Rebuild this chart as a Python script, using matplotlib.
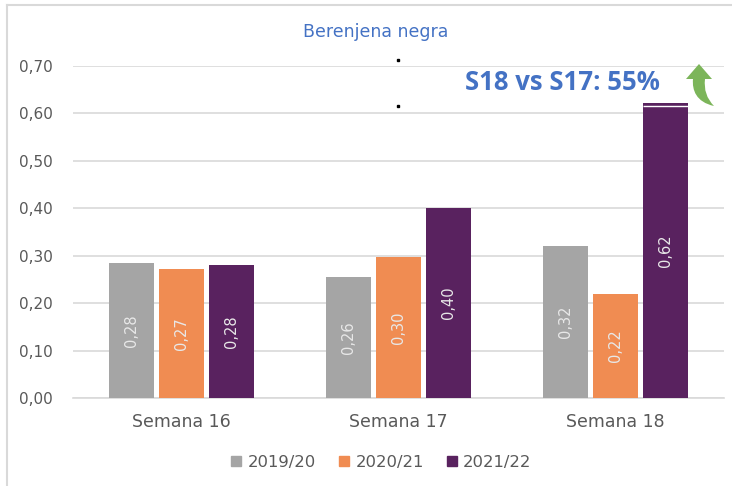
import matplotlib
matplotlib.use("Agg")
import matplotlib.pyplot as plt
from matplotlib.patches import PathPatch
from matplotlib.path import Path
from matplotlib.lines import Line2D
import numpy as np

categories = ["Semana 16", "Semana 17", "Semana 18"]
series_names = ["2019/20", "2020/21", "2021/22"]
v_2019 = [0.284, 0.256, 0.321]
v_2020 = [0.271, 0.297, 0.219]
v_2021 = [0.281, 0.400, 0.621]
labels_2019 = ["0,28", "0,26", "0,32"]
labels_2020 = ["0,27", "0,30", "0,22"]
labels_2021 = ["0,28", "0,40", "0,62"]
yticks = [0.0, 0.1, 0.2, 0.3, 0.4, 0.5, 0.6, 0.7]
ytick_labels = ["0,00", "0,10", "0,20", "0,30", "0,40", "0,50", "0,60", "0,70"]
title = "Berenjena negra"
note = "S18 vs S17: 55%"

colors = ["#A5A5A5", "#F08C52", "#59225F"]
font = "DejaVu Sans"
W, H = 732, 486
fig = plt.figure(figsize=(W / 100, H / 100), dpi=100)
ax = fig.add_axes([73 / W, 1 - 398 / H, (724 - 73) / W, (398 - 66) / H])

x = np.arange(len(categories))
bw = 0.207
step = 0.23
all_vals = [v_2019, v_2020, v_2021]
all_labels = [labels_2019, labels_2020, labels_2021]
for i, (vals, labs) in enumerate(zip(all_vals, all_labels)):
    pos = x + (i - 1) * step
    ax.bar(pos, vals, width=bw, color=colors[i], zorder=3, label=series_names[i])
    for p, v, l in zip(pos, vals, labs):
        ax.text(p, v / 2, l, rotation=90, ha="center", va="center",
                color="#E8E8E8", fontsize=10.5, family=font, zorder=4)

# thin white line near top of the tallest bar
p_last = x[2] + step
ax.hlines(v_2021[2] - 0.006, p_last - bw / 2, p_last + bw / 2, color="white", lw=1, zorder=5)

ax.set_xlim(-0.5, 2.5)
ax.set_ylim(0, 0.70)
ax.set_yticks(yticks)
ax.set_yticklabels(ytick_labels)
ax.set_xticks(x)
ax.set_xticklabels(categories)
ax.grid(axis="y", color="#D9D9D9", lw=1.2, zorder=0)
ax.set_axisbelow(True)
for s in ["top", "right", "left"]:
    ax.spines[s].set_visible(False)
ax.spines["bottom"].set_color("#D9D9D9")
ax.spines["bottom"].set_linewidth(1.2)
ax.tick_params(axis="both", length=0, colors="#595959")
ax.tick_params(axis="y", pad=14.4, labelsize=11)
ax.tick_params(axis="x", pad=11, labelsize=12.5)
for t in ax.get_xticklabels() + ax.get_yticklabels():
    t.set_family(font)
    t.set_color("#595959")

fig.text(376 / W, 1 - 32 / H, title, ha="center", va="center", color="#4472C4",
         fontsize=12.5, family=font)
fig.text(562 / W, 1 - 83 / H, note, ha="center", va="center", color="#4472C4",
         fontsize=18.5, fontweight="bold", family="Open Sans")

# legend
handles = [Line2D([0], [0], marker="s", ls="none", markersize=7.5, markerfacecolor=c,
                  markeredgecolor=c) for c in colors]
leg = fig.legend(handles, series_names, loc="center", bbox_to_anchor=(379 / W, 1 - 462 / H),
                 ncol=3, frameon=False, handletextpad=0.1, columnspacing=1.1,
                 handlelength=1.2, prop={"family": font, "size": 11.8})
for t in leg.get_texts():
    t.set_color("#595959")

# figure border (left and top visible)
fig.add_artist(Line2D([7.5 / W, 7.5 / W], [0, 1 - 5.5 / H], color="#D9D9D9", lw=1.5,
                      transform=fig.transFigure))
fig.add_artist(Line2D([7.5 / W, 1], [1 - 5.5 / H, 1 - 5.5 / H], color="#D9D9D9", lw=1.5,
                      transform=fig.transFigure))

# small black dots
fig.add_artist(Line2D([398 / W, 398 / W], [1 - 60 / H, 1 - 106 / H], ls="none", marker="s",
                      markersize=2, color="black", transform=fig.transFigure))

# green curved arrow (pixel coordinates, y measured from top)
pts = [(699, 64), (712, 79), (705, 79), (703, 95), (714, 106),
       (696, 102), (692, 90), (693, 79), (686, 79), (699, 64)]
codes = [Path.MOVETO, Path.LINETO, Path.LINETO, Path.CURVE3, Path.CURVE3,
         Path.CURVE4, Path.CURVE4, Path.CURVE4, Path.LINETO, Path.CLOSEPOLY]
verts = [(px / W, 1 - py / H) for px, py in pts]
fig.add_artist(PathPatch(Path(verts, codes), facecolor="#7CB55A", edgecolor="none",
                         transform=fig.transFigure))

fig.savefig("out.png", dpi=100)
